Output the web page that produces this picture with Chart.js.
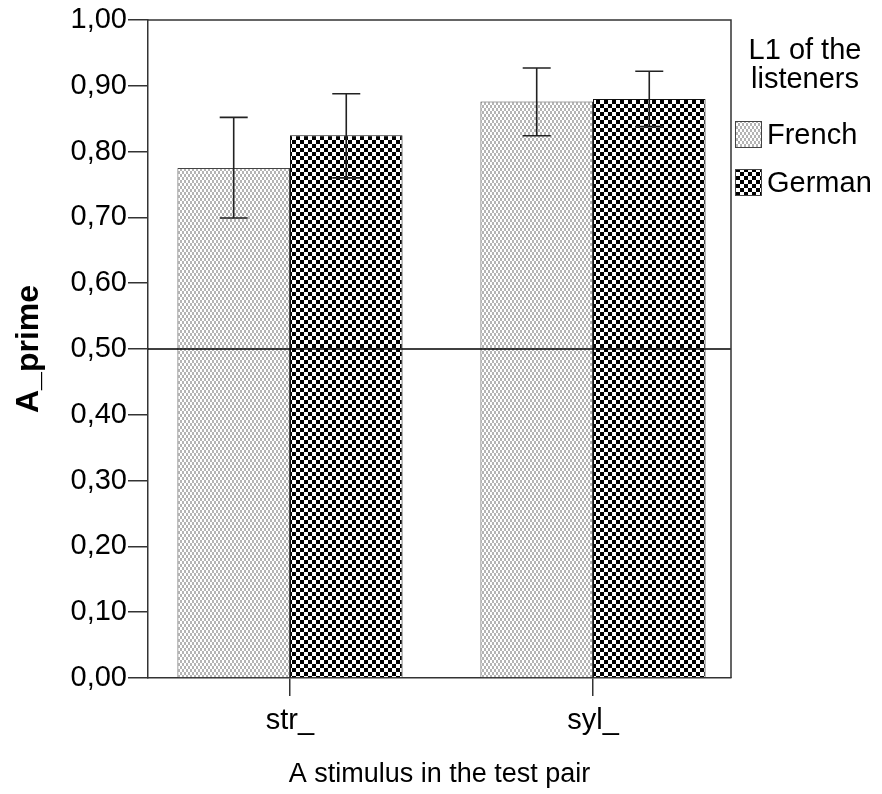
<!DOCTYPE html>
<html>
<head>
<meta charset="utf-8">
<script src="https://cdn.jsdelivr.net/npm/chart.js@4.4.1/dist/chart.umd.min.js"></script>
<style>
  body { margin: 0; background: #fff; }
  #wrap { width: 882px; height: 794px; }
</style>
</head>
<body>
<div id="wrap"><canvas id="myChart"></canvas></div>
<script>
// data
const categories = ['str_', 'syl_'];
const seriesNames = ['French', 'German'];
const frenchMean = [0.775, 0.876];
const germanMean = [0.825, 0.880];
const frenchLow = [0.699, 0.824];
const frenchHigh = [0.852, 0.927];
const germanLow = [0.760, 0.838];
const germanHigh = [0.888, 0.922];
const refValue = 0.50;
const yTickValues = [0, 0.1, 0.2, 0.3, 0.4, 0.5, 0.6, 0.7, 0.8, 0.9, 1.0];
const yTickLabels = ['0,00', '0,10', '0,20', '0,30', '0,40', '0,50', '0,60', '0,70', '0,80', '0,90', '1,00'];

const FONT = '"Liberation Sans", Arial, sans-serif';

// fill patterns like the SPSS output
function makePattern(w, h, draw) {
    const c = document.createElement('canvas');
    c.width = w; c.height = h;
    const g = c.getContext('2d');
    g.fillStyle = '#fff';
    g.fillRect(0, 0, w, h);
    draw(g);
    return document.getElementById('myChart').getContext('2d').createPattern(c, 'repeat');
}
const dotPattern = makePattern(4, 6, function (g) {
    g.fillStyle = '#b4b4b4';
    g.fillRect(0, 0, 2, 3);
    g.fillRect(2, 3, 2, 3);
});
const checkPattern = makePattern(8, 8, function (g) {
    g.fillStyle = '#000';
    g.fillRect(0, 0, 4, 4);
    g.fillRect(4, 4, 4, 4);
});

const extras = {
    id: 'extras',
    afterDatasetsDraw(chart) {
        const ctx = chart.ctx;
        const area = chart.chartArea;
        const y = chart.scales.y;

        // reference line
        ctx.save();
        ctx.strokeStyle = '#000';
        ctx.lineWidth = 1.5;
        const ry = y.getPixelForValue(refValue);
        ctx.beginPath();
        ctx.moveTo(area.left, ry);
        ctx.lineTo(area.right, ry);
        ctx.stroke();

        // error bars
        const lows = [frenchLow, germanLow];
        const highs = [frenchHigh, germanHigh];
        ctx.strokeStyle = '#222';
        ctx.lineWidth = 1.6;
        chart.data.datasets.forEach(function (ds, di) {
            const meta = chart.getDatasetMeta(di);
            meta.data.forEach(function (bar, i) {
                const yl = y.getPixelForValue(lows[di][i]);
                const yh = y.getPixelForValue(highs[di][i]);
                ctx.beginPath();
                ctx.moveTo(bar.x, yl); ctx.lineTo(bar.x, yh);
                ctx.moveTo(bar.x - 14, yl); ctx.lineTo(bar.x + 14, yl);
                ctx.moveTo(bar.x - 14, yh); ctx.lineTo(bar.x + 14, yh);
                ctx.stroke();
            });
        });

        // frame top and right
        ctx.strokeStyle = '#333';
        ctx.lineWidth = 1.5;
        ctx.beginPath();
        ctx.moveTo(area.left, area.top);
        ctx.lineTo(area.right, area.top);
        ctx.lineTo(area.right, area.bottom);
        ctx.stroke();
        ctx.restore();
    },
    afterDraw(chart) {
        // legend on the right
        const ctx = chart.ctx;
        const x0 = chart.chartArea.right + 4;
        ctx.save();
        ctx.fillStyle = '#000';
        ctx.font = '29px ' + FONT;
        ctx.textAlign = 'center';
        ctx.textBaseline = 'middle';
        ctx.fillText('L1 of the', 805, 51);
        ctx.fillText('listeners', 805, 80);
        ctx.textAlign = 'left';
        chart.data.datasets.forEach(function (ds, i) {
            const top = 121 + i * 48;
            ctx.fillStyle = ds.backgroundColor;
            ctx.fillRect(x0, top, 26, 26);
            ctx.strokeStyle = '#444';
            ctx.lineWidth = 1;
            ctx.strokeRect(x0 + 0.5, top + 0.5, 26, 26);
            ctx.fillStyle = '#000';
            ctx.fillText(ds.label, x0 + 32, top + 15);
        });
        ctx.restore();
    }
};

const ctx = document.getElementById('myChart');
new Chart(ctx, {
    type: 'bar',
    data: {
        datasets: [
            {
                label: seriesNames[0],
                data: frenchMean.map((v, i) => ({ x: i, y: v })),
                backgroundColor: dotPattern,
                borderColor: '#444',
                borderWidth: 1,
                categoryPercentage: 0.743,
                barPercentage: 1
            },
            {
                label: seriesNames[1],
                data: germanMean.map((v, i) => ({ x: i, y: v })),
                backgroundColor: checkPattern,
                borderColor: '#111',
                borderWidth: 1,
                categoryPercentage: 0.743,
                barPercentage: 1
            }
        ]
    },
    options: {
        responsive: true,
        maintainAspectRatio: false,
        animation: false,
        layout: { padding: { top: 20, right: 151, left: 0, bottom: 0 } },
        plugins: { legend: { display: false }, tooltip: { enabled: false } },
        scales: {
            x: {
                type: 'linear',
                min: -0.4686,
                max: 1.4555,
                offset: false,
                afterBuildTicks: function (s) { s.ticks = categories.map((c, i) => ({ value: i })); },
                afterFit: function (s) { s.height = 116; },
                ticks: {
                    callback: function (v) { return categories[v]; },
                    autoSkip: false, maxRotation: 0,
                    color: '#000', padding: 8,
                    font: { family: FONT, size: 29 }
                },
                grid: { drawOnChartArea: false, drawTicks: true, tickLength: 18, color: '#333', lineWidth: 1.5, offset: false },
                border: { color: '#333', width: 1.5 },
                title: {
                    display: true, text: 'A stimulus in the test pair', color: '#000',
                    font: { family: FONT, size: 27 }, padding: { top: 0, bottom: 3 }
                }
            },
            y: {
                min: 0, max: 1,
                afterBuildTicks: function (s) { s.ticks = yTickValues.map(v => ({ value: v })); },
                afterFit: function (s) { s.width = 148; },
                ticks: {
                    callback: function (v, i) { return yTickLabels[i]; },
                    color: '#000', padding: 1,
                    font: { family: FONT, size: 29 }
                },
                grid: { drawOnChartArea: false, drawTicks: true, tickLength: 20, color: '#333', lineWidth: 1.5 },
                border: { color: '#333', width: 1.5 },
                title: {
                    display: true, text: 'A_prime', color: '#000',
                    font: { family: FONT, size: 32, weight: 'bold' }, padding: { top: 10, bottom: 0 }
                }
            }
        }
    },
    plugins: [extras]
});
</script>
</body>
</html>
